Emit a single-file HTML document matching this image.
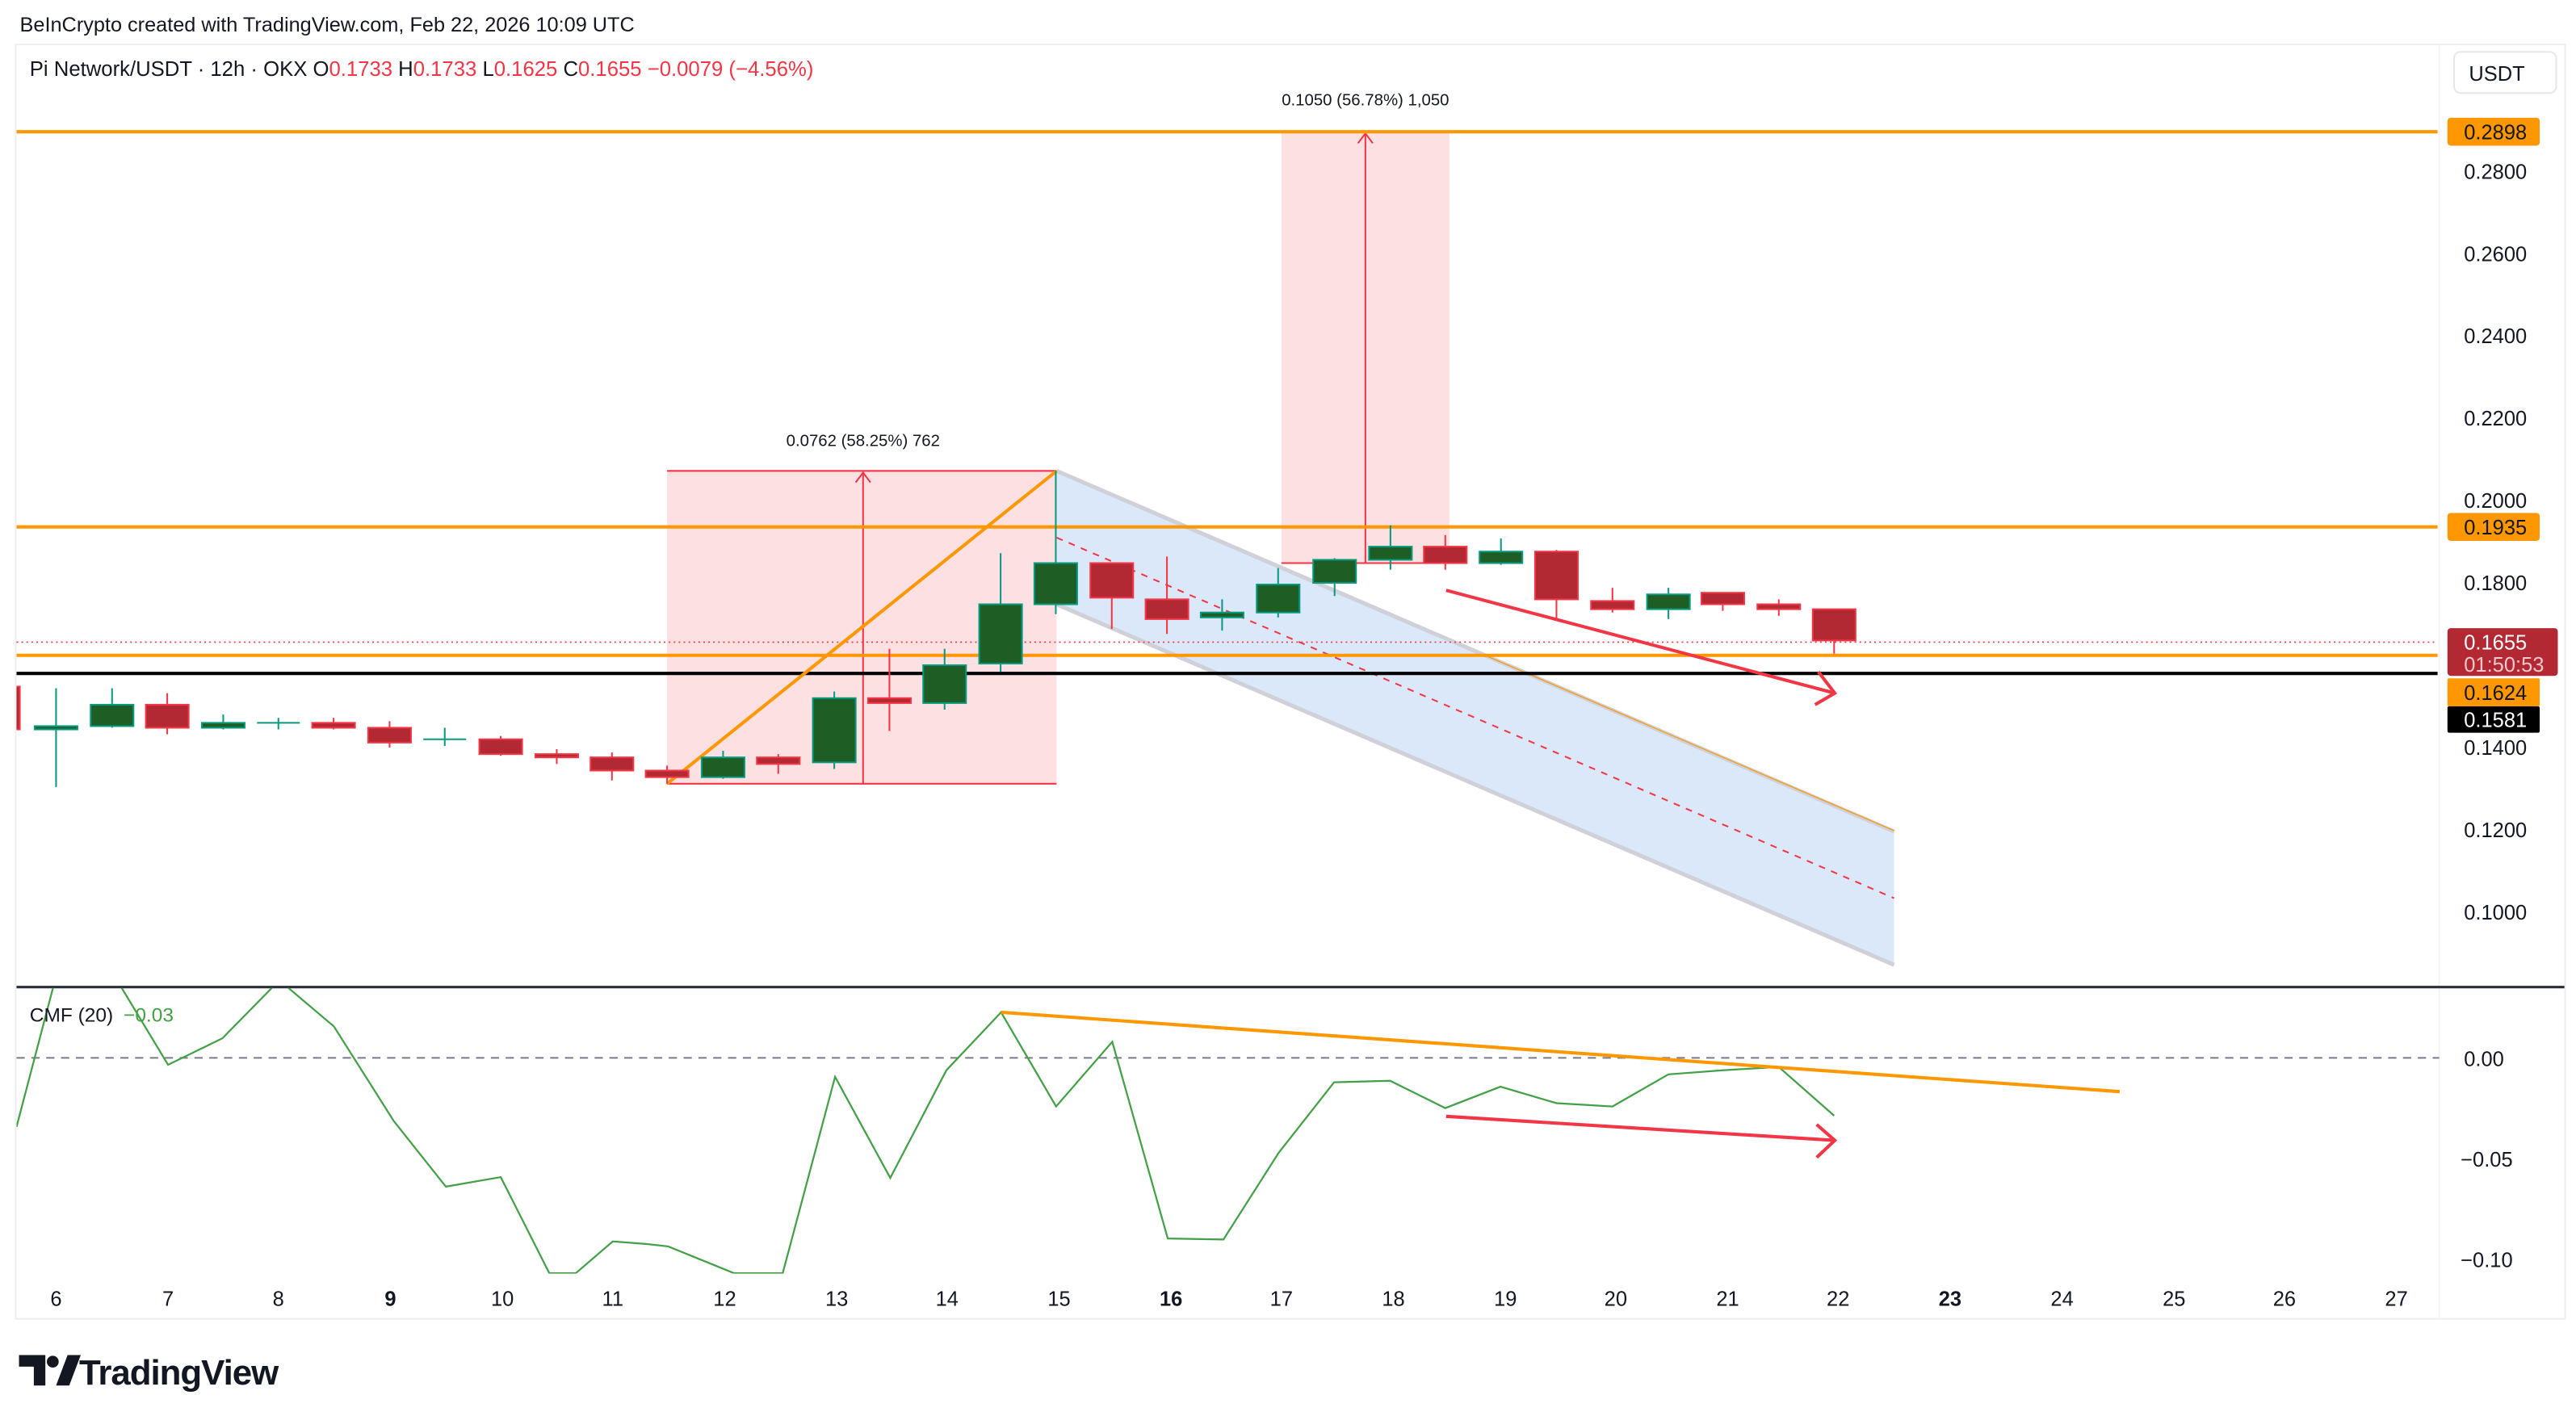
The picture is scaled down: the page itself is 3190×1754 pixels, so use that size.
<!DOCTYPE html>
<html><head><meta charset="utf-8"><style>
html,body{margin:0;padding:0;background:#fff;}
svg{display:block;}
text{font-family:"Liberation Sans",sans-serif;}
</style></head><body>
<svg width="3190" height="1754" viewBox="0 0 1564 860" xmlns="http://www.w3.org/2000/svg">
<defs>
<clipPath id="pp"><rect x="10" y="28" width="1470" height="571"/></clipPath>
<clipPath id="cp"><rect x="10" y="600" width="1470" height="173.5"/></clipPath>
</defs>
<rect width="1564" height="860" fill="#fff"/>
<text x="12" y="19" font-size="12.4" fill="#131722">BeInCrypto created with TradingView.com, Feb 22, 2026 10:09 UTC</text>
<rect x="9.5" y="27" width="1548" height="774" fill="none" stroke="#eeeff2" stroke-width="1"/>
<line x1="1481" y1="27" x2="1481" y2="801" stroke="#f4f4f6" stroke-width="1"/>
<text x="18" y="46" font-size="12.6" fill="#131722">Pi Network/USDT · 12h · OKX  O<tspan fill="#f23645">0.1733</tspan>  H<tspan fill="#f23645">0.1733</tspan>  L<tspan fill="#f23645">0.1625</tspan>  C<tspan fill="#f23645">0.1655</tspan>  <tspan fill="#f23645">−0.0079 (−4.56%)</tspan></text>
<rect x="1490" y="31.5" width="62" height="25" rx="4" fill="#fff" stroke="#e6e7ea"/>
<text x="1499" y="49" font-size="12.5" fill="#131722">USDT</text>

<g clip-path="url(#pp)">
<rect x="405" y="286" width="236.5" height="190" fill="#fde0e2"/>
<line x1="405" y1="286" x2="641.5" y2="286" stroke="#f23645" stroke-width="1"/>
<line x1="405" y1="476" x2="641.5" y2="476" stroke="#f23645" stroke-width="1"/>
<line x1="524" y1="476" x2="524" y2="287" stroke="#f23645" stroke-width="1"/>
<polyline points="519.5,293 524,287 528.5,293" fill="none" stroke="#f23645" stroke-width="1"/>
<rect x="778" y="80" width="102" height="262" fill="#fde0e2"/>
<line x1="778" y1="342" x2="880" y2="342" stroke="#f23645" stroke-width="1"/>
<line x1="829" y1="342" x2="829" y2="81" stroke="#f23645" stroke-width="1"/>
<polyline points="824.5,87 829,81 833.5,87" fill="none" stroke="#f23645" stroke-width="1"/>
<polygon points="641.5,286 1150,505 1150,586 641.5,367" fill="#dbe8fa"/>
<line x1="641.5" y1="286" x2="1150" y2="505" stroke="#cfd0d8" stroke-width="2.5"/>
<line x1="641.5" y1="367" x2="1150" y2="586" stroke="#cfd0d8" stroke-width="2.5"/>
<line x1="900" y1="397.3" x2="1150" y2="504.5" stroke="#ff9800" stroke-width="0.6"/>
<line x1="641.5" y1="326.5" x2="1150" y2="545.5" stroke="#f23645" stroke-width="1" stroke-dasharray="4,4"/>
<line x1="10" y1="80" x2="1481" y2="80" stroke="#ff9800" stroke-width="2"/>
<line x1="10" y1="320" x2="1481" y2="320" stroke="#ff9800" stroke-width="2"/>
<line x1="10" y1="390" x2="1481" y2="390" stroke="#f23645" stroke-width="0.8" stroke-dasharray="1,2"/>
<line x1="10" y1="398" x2="1481" y2="398" stroke="#ff9800" stroke-width="2"/>
<line x1="10" y1="409" x2="1481" y2="409" stroke="#000" stroke-width="2"/>
<line x1="405" y1="476" x2="641.5" y2="286" stroke="#ff9800" stroke-width="2"/>
<g stroke-width="1">
<g stroke="#f23645" fill="#b22833">
<line x1="10" y1="417" x2="10" y2="443"/><rect x="7" y="417" width="5" height="26"/>
<line x1="101.5" y1="421" x2="101.5" y2="446"/><rect x="88.5" y="428" width="26" height="14"/>
<line x1="202.5" y1="436" x2="202.5" y2="443"/><rect x="189.5" y="439" width="26" height="3"/>
<line x1="236.5" y1="438" x2="236.5" y2="454"/><rect x="223.5" y="442" width="26" height="9"/>
<line x1="304" y1="447" x2="304" y2="459"/><rect x="291" y="449" width="26" height="9"/>
<line x1="338" y1="455" x2="338" y2="464"/><rect x="325" y="458" width="26" height="2"/>
<line x1="371.5" y1="457" x2="371.5" y2="474"/><rect x="358.5" y="460" width="26" height="8"/>
<line x1="405" y1="465" x2="405" y2="476"/><rect x="392" y="468" width="26" height="4"/>
<line x1="472.5" y1="458" x2="472.5" y2="470"/><rect x="459.5" y="460" width="26" height="4"/>
<line x1="540" y1="394" x2="540" y2="444"/><rect x="527" y="424" width="26" height="3"/>
<line x1="675" y1="342" x2="675" y2="382"/><rect x="662" y="342" width="26" height="21"/>
<line x1="708.5" y1="338" x2="708.5" y2="385"/><rect x="695.5" y="364" width="26" height="12"/>
<line x1="877.5" y1="325" x2="877.5" y2="346"/><rect x="864.5" y="332" width="26" height="10"/>
<line x1="945" y1="334" x2="945" y2="376"/><rect x="932" y="335" width="26" height="29"/>
<line x1="979" y1="357" x2="979" y2="372"/><rect x="966" y="365" width="26" height="5"/>
<line x1="1046" y1="360" x2="1046" y2="371"/><rect x="1033" y="360" width="26" height="7"/>
<line x1="1080" y1="364" x2="1080" y2="374"/><rect x="1067" y="367" width="26" height="3"/>
<line x1="1113.6" y1="370" x2="1113.6" y2="397"/><rect x="1100.6" y="370" width="26" height="19"/>
</g>
<g stroke="#089981" fill="#1e5e25">
<line x1="34" y1="418" x2="34" y2="478"/><rect x="21" y="441" width="26" height="2"/>
<line x1="68" y1="418" x2="68" y2="442"/><rect x="55" y="428" width="26" height="13"/>
<line x1="135.5" y1="434" x2="135.5" y2="443"/><rect x="122.5" y="439" width="26" height="3"/>
<line x1="169" y1="436" x2="169" y2="443"/><line x1="156" y1="439" x2="182" y2="439"/>
<line x1="270" y1="442" x2="270" y2="453"/><line x1="257" y1="449" x2="283" y2="449"/>
<line x1="439" y1="456" x2="439" y2="473"/><rect x="426" y="460" width="26" height="12"/>
<line x1="506.5" y1="420" x2="506.5" y2="467"/><rect x="493.5" y="424" width="26" height="39"/>
<line x1="573.5" y1="394" x2="573.5" y2="431"/><rect x="560.5" y="404" width="26" height="23"/>
<line x1="607.5" y1="336" x2="607.5" y2="408"/><rect x="594.5" y="367" width="26" height="36"/>
<line x1="641" y1="286" x2="641" y2="373"/><rect x="628" y="342" width="26" height="25"/>
<line x1="742" y1="364" x2="742" y2="383"/><rect x="729" y="372" width="26" height="3"/>
<line x1="776" y1="345" x2="776" y2="375"/><rect x="763" y="355" width="26" height="17"/>
<line x1="810.3" y1="339" x2="810.3" y2="362"/><rect x="797.3" y="340" width="26" height="14"/>
<line x1="844.2" y1="319" x2="844.2" y2="346"/><rect x="831.2" y="332" width="26" height="8"/>
<line x1="911.3" y1="327" x2="911.3" y2="343"/><rect x="898.3" y="335" width="26" height="7"/>
<line x1="1013" y1="357" x2="1013" y2="376"/><rect x="1000" y="361" width="26" height="9"/>
</g>
</g>
<line x1="878" y1="358.5" x2="1114" y2="421" stroke="#f23645" stroke-width="2"/>
<polyline points="1104,408 1114,421 1102,428" fill="none" stroke="#f23645" stroke-width="2"/>
</g>
<text x="524" y="271" font-size="10" fill="#131722" text-anchor="middle">0.0762 (58.25%) 762</text>
<text x="829" y="64" font-size="10" fill="#131722" text-anchor="middle">0.1050 (56.78%) 1,050</text>

<g font-size="12.5" fill="#131722">
<text x="1496" y="108.5">0.2800</text>
<text x="1496" y="158.5">0.2600</text>
<text x="1496" y="208.5">0.2400</text>
<text x="1496" y="258.5">0.2200</text>
<text x="1496" y="308.5">0.2000</text>
<text x="1496" y="358.5">0.1800</text>
<text x="1496" y="458.5">0.1400</text>
<text x="1496" y="508.5">0.1200</text>
<text x="1496" y="558.5">0.1000</text>
</g>
<rect x="1486" y="71.5" width="56" height="17" rx="2" fill="#ff9800"/>
<text x="1496" y="84.5" font-size="12.5" fill="#131722">0.2898</text>
<rect x="1486" y="311.5" width="56" height="17" rx="2" fill="#ff9800"/>
<text x="1496" y="324.5" font-size="12.5" fill="#131722">0.1935</text>
<rect x="1486" y="381.5" width="67" height="29" rx="2" fill="#b22833"/>
<text x="1496" y="394.5" font-size="12.5" fill="#fff">0.1655</text>
<text x="1496" y="408" font-size="12.5" fill="#f5c6ca">01:50:53</text>
<rect x="1486" y="412" width="56" height="17" rx="1" fill="#ff9800"/>
<text x="1496" y="425" font-size="12.5" fill="#131722">0.1624</text>
<rect x="1486" y="429" width="56" height="16" rx="1" fill="#000"/>
<text x="1496" y="441.5" font-size="12.5" fill="#fff">0.1581</text>

<line x1="10" y1="599.5" x2="1557" y2="599.5" stroke="#2a2e39" stroke-width="1.5"/>

<line x1="10" y1="642.5" x2="1481" y2="642.5" stroke="#787b86" stroke-width="1" stroke-dasharray="5,4"/>
<g clip-path="url(#cp)">
<polyline fill="none" stroke="#43a047" stroke-width="1.1" points="10,684.4 32.5,598.6 73,598.6 102,646.7 135,630.6 166.4,598.6 173.4,598.6 202.7,623.4 239,680.8 270.7,720.7 304,714.9 333.5,773.3 349.5,773.3 372,754 392.2,755.5 405.7,757 445.7,773.3 475.2,773.3 507,654 540.5,715.4 574.6,650 607.8,614.8 641.2,672 675.3,632.7 709,752.2 742.8,752.8 776.3,700.2 810,657.3 844,656.4 877.5,673 911,660 945,670 979,672 1013,652.5 1046,650 1080,648 1113.6,677.6"/>
<line x1="607.8" y1="614.8" x2="1287" y2="663" stroke="#ff9800" stroke-width="2"/>
<line x1="878" y1="678" x2="1114" y2="692.6" stroke="#f23645" stroke-width="2"/>
<polyline points="1103,683 1114,692.6 1103,703" fill="none" stroke="#f23645" stroke-width="2"/>
</g>
<text x="18" y="620.5" font-size="12" fill="#131722">CMF (20)</text>
<text x="75" y="620.5" font-size="12" fill="#43a047">−0.03</text>
<g font-size="12.5" fill="#131722">
<text x="1496" y="647.5">0.00</text>
<text x="1494" y="708.5">−0.05</text>
<text x="1494" y="769.5">−0.10</text>
</g>

<g font-size="12.5" fill="#131722" text-anchor="middle">
<text x="34" y="793">6</text><text x="102" y="793">7</text><text x="169" y="793">8</text>
<text x="237" y="793" font-weight="bold">9</text><text x="305" y="793">10</text><text x="372" y="793">11</text>
<text x="440" y="793">12</text><text x="508" y="793">13</text><text x="575" y="793">14</text>
<text x="643" y="793">15</text><text x="711" y="793" font-weight="bold">16</text><text x="778" y="793">17</text>
<text x="846" y="793">18</text><text x="914" y="793">19</text><text x="981" y="793">20</text>
<text x="1049" y="793">21</text><text x="1116" y="793">22</text><text x="1184" y="793" font-weight="bold">23</text>
<text x="1252" y="793">24</text><text x="1320" y="793">25</text><text x="1387" y="793">26</text>
<text x="1455" y="793">27</text>
</g>

<g fill="#131722">
<path d="M11.5,823 h16 v18.5 h-7 v-11.5 h-9 z"/>
<circle cx="32" cy="827" r="3.6"/>
<path d="M34,841.5 L41,823 H49 L42,841.5 z"/>
</g>
<text x="48" y="841" font-size="21.5" font-weight="bold" fill="#131722" style="letter-spacing:-0.5px">TradingView</text>
</svg>
</body></html>
